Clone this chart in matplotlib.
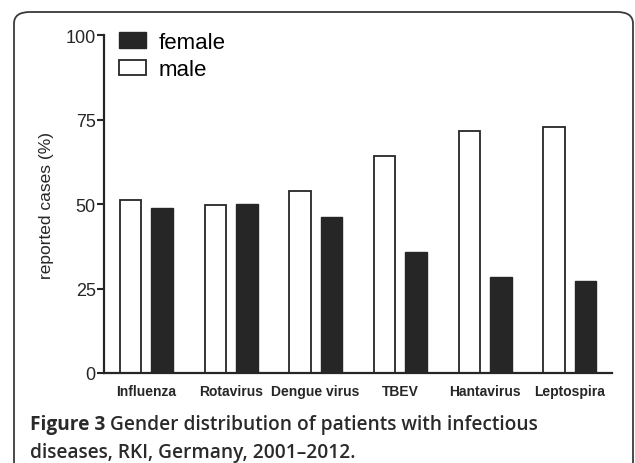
import matplotlib.pyplot as plt
import numpy as np
from matplotlib.patches import FancyBboxPatch

diseases = ["Influenza", "Rotavirus", "Dengue virus", "TBEV", "Hantavirus", "Leptospira"]
male = [51.1, 49.8, 53.8, 64.3, 71.6, 72.9]
female = [48.7, 50.1, 46.2, 35.7, 28.4, 27.1]

caption_bold = "Figure 3"
caption_rest = " Gender distribution of patients with infectious"
caption_line2 = "diseases, RKI, Germany, 2001\u20132012."

ink = "#262626"
cap_ink = "#2a2a2a"
plt.rcParams["font.family"] = ["Liberation Sans", "DejaVu Sans"]

fig = plt.figure(figsize=(6.35, 4.64), dpi=100)
ax = fig.add_axes([0.1638, 0.194, 0.800, 0.728])

x = np.arange(len(diseases))
w = 0.254
off = 0.186
ax.bar(x - off, male, w, facecolor="white", edgecolor=ink, linewidth=1.3, label="male")
ax.bar(x + off, female, w, facecolor=ink, edgecolor=ink, linewidth=1.0, label="female")

ax.set_xlim(-0.5, 5.5)
ax.set_ylim(0, 100)
ax.set_yticks([0, 25, 50, 75, 100])
ax.set_xticks(x)
ax.set_xticklabels(diseases, fontsize=10, fontweight="bold", color=ink)
ax.tick_params(axis="x", length=0, pad=8)
ax.tick_params(axis="y", direction="out", length=5, width=1.5, pad=1,
               labelsize=13, colors=ink)
for s in ["top", "right"]:
    ax.spines[s].set_visible(False)
for s in ["left", "bottom"]:
    ax.spines[s].set_linewidth(1.6)
    ax.spines[s].set_color(ink)
ax.set_ylabel("reported cases (%)", fontsize=12.5, color=ink, labelpad=8)

h, l = ax.get_legend_handles_labels()
ax.legend(h[::-1], l[::-1], loc="upper left", bbox_to_anchor=(0.03, 1.01),
          frameon=False, fontsize=16, borderpad=0, borderaxespad=0,
          handlelength=1.2, handleheight=0.68, handletextpad=0.55,
          labelspacing=0.28)

# rounded frame around figure
frame = FancyBboxPatch((14 / 635, -0.1), (633 - 14) / 635, 1 - 13 / 464 + 0.1,
                       boxstyle="round,pad=0,rounding_size=0.025",
                       transform=fig.transFigure, facecolor="none",
                       edgecolor="#3a3a3a", linewidth=1.3, clip_on=False)
fig.patches.append(frame)

t = fig.text(30 / 635, 1 - 430 / 464, caption_bold, fontsize=13.8, fontweight="bold",
             family="Open Sans", color=cap_ink, va="baseline")
fig.canvas.draw()
bb = t.get_window_extent()
fig.text(bb.x1 / 635, 1 - 430 / 464, caption_rest, fontsize=13.8, fontweight="semibold",
         family="Open Sans", color=cap_ink, va="baseline")
fig.text(30 / 635, 1 - 458 / 464, caption_line2, fontsize=13.8, fontweight="semibold",
         family="Open Sans", color=cap_ink, va="baseline")

fig.savefig("out.png", dpi=100)
